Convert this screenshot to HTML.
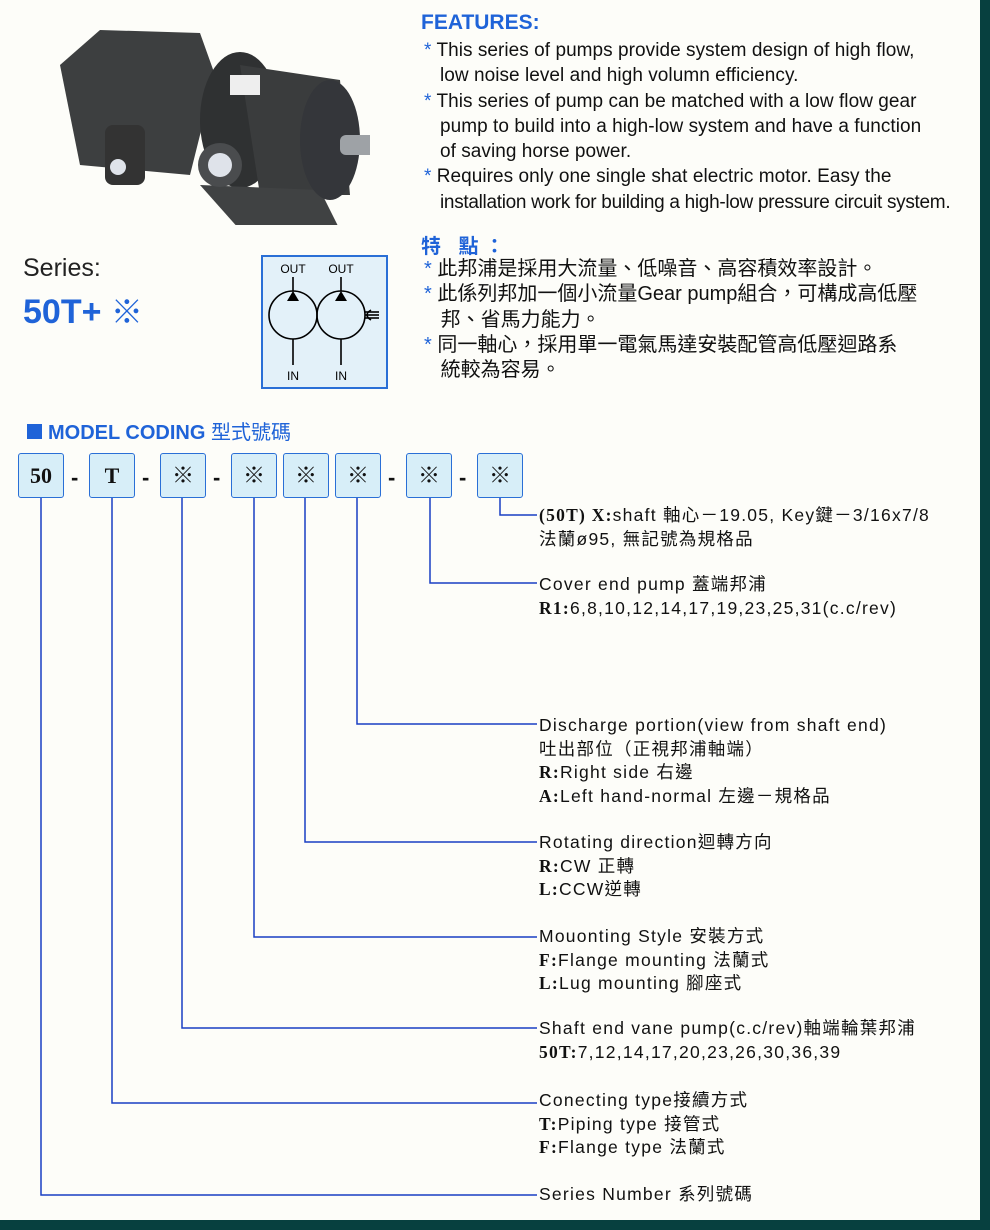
<!DOCTYPE html>
<html><head><meta charset="utf-8"><style>
body{margin:0;width:990px;height:1230px;position:relative;background:#fdfdf9;font-family:"Liberation Sans","Noto Sans CJK TC",sans-serif;color:#111;overflow:hidden}
.a{position:absolute;white-space:nowrap}
.f{font-size:19px;line-height:25.3px;letter-spacing:0.05px}
.c{font-size:20px;line-height:25.3px}
.st{color:#1f63d8}
.box{position:absolute;top:453px;width:44px;height:43px;border:1.5px solid #2a6fd6;border-radius:3px;background:#d7eef8;text-align:center;line-height:43px;font-size:22px;font-family:"Liberation Serif","Noto Serif CJK SC",serif;font-weight:bold}
.d{position:absolute;top:465px;font-size:22px;font-weight:bold}
.t{position:absolute;left:539px;font-size:17.5px;line-height:23.5px;white-space:nowrap;letter-spacing:1.25px}
.t b{font-family:"Liberation Serif",serif}
</style></head><body>
<div style="position:absolute;right:0;top:0;width:10px;height:1230px;background:#07403f"></div>
<div style="position:absolute;left:0;bottom:0;width:990px;height:10px;background:#07403f"></div>

<svg class="a" style="left:40px;top:25px" width="330" height="200">
<path d="M20 40 L60 5 L160 8 L175 50 L150 150 L40 140 Z" fill="#3d3f40"/>
<ellipse cx="200" cy="95" rx="40" ry="68" fill="#2f3132"/>
<path d="M200 40 L300 55 L310 170 L220 170 Z" fill="#3a3c3d"/>
<path d="M160 160 L280 165 L300 205 L200 205 Z" fill="#404243"/>
<ellipse cx="290" cy="115" rx="30" ry="60" fill="#34363a"/>
<rect x="300" y="110" width="50" height="20" fill="#9ea2a6" rx="6"/>
<circle cx="180" cy="140" r="22" fill="#4a4c4e"/><circle cx="180" cy="140" r="12" fill="#dfe3ea"/>
<rect x="65" y="100" width="40" height="60" rx="8" fill="#333"/><circle cx="78" cy="142" r="8" fill="#dfe3ea"/>
<rect x="190" y="50" width="30" height="20" fill="#eee"/>
</svg>

<div class="a" style="left:23px;top:254px;font-size:25px;color:#222">Series:</div>
<div class="a" style="left:23px;top:287px;font-size:34px;font-weight:bold;color:#1f63d8">50T+ <span style="font-weight:normal;font-family:'Noto Sans CJK JP',sans-serif;font-size:32px">※</span></div>

<svg class="a" style="left:261px;top:255px" width="128" height="134">
<rect x="1" y="1" width="125" height="132" fill="#e3f1f9" stroke="#2a6fd6" stroke-width="2"/>
<g font-family="Liberation Sans" font-size="12" text-anchor="middle" fill="#000">
<text x="32" y="18">OUT</text><text x="80" y="18">OUT</text><text x="32" y="125">IN</text><text x="80" y="125">IN</text></g>
<g stroke="#000" stroke-width="1.6" fill="none">
<circle cx="32" cy="60" r="24"/><circle cx="80" cy="60" r="24"/>
<line x1="32" y1="22" x2="32" y2="36"/><line x1="80" y1="22" x2="80" y2="36"/>
<line x1="32" y1="84" x2="32" y2="110"/><line x1="80" y1="84" x2="80" y2="110"/>
<path d="M110 55 Q102 60 110 65" /><line x1="104" y1="57" x2="118" y2="57"/><line x1="104" y1="60" x2="118" y2="60"/><line x1="104" y1="63" x2="118" y2="63"/>
</g>
<path d="M26 46 L38 46 L32 36 Z M74 46 L86 46 L80 36 Z" fill="#000"/>
</svg>

<div class="a" style="left:421px;top:11px;font-size:21px;font-weight:bold;color:#1f63d8">FEATURES:</div>
<div class="a f" style="left:424px;top:38px">
<span class="st">*</span> This series of pumps provide system design of high flow,<br>
&nbsp;&nbsp;&nbsp;low noise level and high volumn efficiency.<br>
<span class="st">*</span> This series of pump can be matched with a low flow gear<br>
&nbsp;&nbsp;&nbsp;pump to build into a high-low system and have a function<br>
&nbsp;&nbsp;&nbsp;of saving horse power.<br>
<span class="st">*</span> Requires only one single shat electric motor. Easy the<br>
&nbsp;&nbsp;&nbsp;<span style="letter-spacing:-0.3px">installation work for building a high-low pressure circuit system.</span>
</div>
<div class="a" style="left:421px;top:230px;font-size:20px;font-weight:bold;color:#1f63d8;letter-spacing:6px">特 點：</div>
<div class="a c" style="left:424px;top:257px">
<span class="st">*</span> 此邦浦是採用大流量、低噪音、高容積效率設計。<br>
<span class="st">*</span> 此係列邦加一個小流量Gear pump組合，可構成高低壓<br>
&nbsp;&nbsp;&nbsp;邦、省馬力能力。<br>
<span class="st">*</span> 同一軸心，採用單一電氣馬達安裝配管高低壓迴路系<br>
&nbsp;&nbsp;&nbsp;統較為容易。
</div>

<div class="a" style="left:27px;top:416px;font-size:20px;font-weight:bold;color:#1f63d8"><span style="display:inline-block;width:15px;height:15px;background:#1f63d8;margin-right:6px"></span>MODEL CODING <span style="font-weight:normal">型式號碼</span></div>

<div class="box" style="left:18px">50</div><div class="d" style="left:71px">-</div>
<div class="box" style="left:89px">T</div><div class="d" style="left:142px">-</div>
<div class="box" style="left:160px;font-weight:normal">※</div><div class="d" style="left:213px">-</div>
<div class="box" style="left:231px;font-weight:normal">※</div>
<div class="box" style="left:283px;font-weight:normal">※</div>
<div class="box" style="left:335px;font-weight:normal">※</div><div class="d" style="left:388px">-</div>
<div class="box" style="left:406px;font-weight:normal">※</div><div class="d" style="left:459px">-</div>
<div class="box" style="left:477px;font-weight:normal">※</div>

<svg class="a" style="left:0;top:0" width="990" height="1230">
<g stroke="#1a3fc4" stroke-width="1.5" fill="none">
<path d="M500 498V515H537"/><path d="M430 498V583H537"/><path d="M357 498V724H537"/>
<path d="M305 498V842H537"/><path d="M254 498V937H537"/><path d="M182 498V1028H537"/>
<path d="M112 498V1103H537"/><path d="M41 498V1195H537"/>
</g></svg>

<div class="t" style="top:504px"><b>(50T) X:</b>shaft 軸心－19.05, Key鍵－3/16x7/8<br>法蘭ø95, 無記號為規格品</div>
<div class="t" style="top:573px">Cover end pump 蓋端邦浦<br><b>R1:</b>6,8,10,12,14,17,19,23,25,31(c.c/rev)</div>
<div class="t" style="top:714px">Discharge portion(view from shaft end)<br>吐出部位（正視邦浦軸端）<br><b>R:</b>Right side 右邊<br><b>A:</b>Left hand-normal 左邊－規格品</div>
<div class="t" style="top:831px">Rotating direction迴轉方向<br><b>R:</b>CW 正轉<br><b>L:</b>CCW逆轉</div>
<div class="t" style="top:925px">Mouonting Style 安裝方式<br><b>F:</b>Flange mounting 法蘭式<br><b>L:</b>Lug mounting 腳座式</div>
<div class="t" style="top:1017px">Shaft end vane pump(c.c/rev)軸端輪葉邦浦<br><b>50T:</b>7,12,14,17,20,23,26,30,36,39</div>
<div class="t" style="top:1089px">Conecting type接續方式<br><b>T:</b>Piping type 接管式<br><b>F:</b>Flange type 法蘭式</div>
<div class="t" style="top:1183px">Series Number 系列號碼</div>
</body></html>
